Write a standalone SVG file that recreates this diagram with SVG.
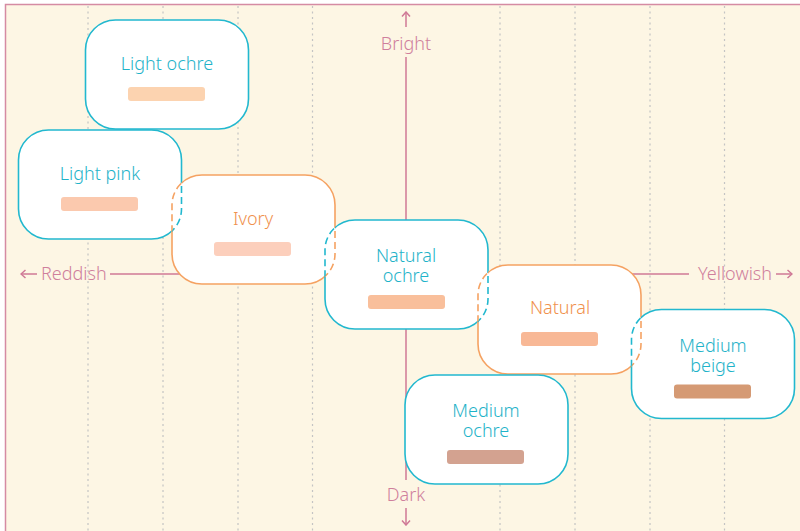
<svg xmlns="http://www.w3.org/2000/svg" xmlns:xlink="http://www.w3.org/1999/xlink" width="800" height="531" viewBox="0 0 800 531">
<style>
.bg{fill:#fdf6e4;stroke:#d58ba3;stroke-width:1.5}
.grid{stroke:#c4c4c4;stroke-width:1.2;stroke-dasharray:2 3.5}
.axis{stroke:#cf7896;stroke-width:1.5;fill:none}
.axl{font-family:"Noto Sans","Open Sans",sans-serif;font-weight:300;font-size:18px;fill:#cf7f9c}
.fill{fill:#ffffff}
.cy{fill:none;stroke:#22b8cf;stroke-width:1.6}
.or{fill:none;stroke:#f5a262;stroke-width:1.6}
.dash{stroke-dasharray:7 4}
.t{font-family:"Noto Sans","Open Sans",sans-serif;font-weight:300;font-size:18px;text-anchor:middle}
.tc{fill:#1fb3c9}
.to{fill:#f0914d}
</style>
<defs>
<rect id="r-lo" x="85.5" y="20" width="163" height="109" rx="30"/>
<rect id="r-lp" x="18.5" y="130" width="163" height="109" rx="30"/>
<rect id="r-iv" x="172" y="175" width="163" height="109" rx="30"/>
<rect id="r-no" x="325" y="220" width="163" height="109" rx="30"/>
<rect id="r-na" x="478" y="265" width="163" height="109" rx="30"/>
<rect id="r-mb" x="631.5" y="309.5" width="163" height="109" rx="30"/>
<rect id="r-mo" x="405" y="375" width="163" height="109" rx="30"/>
<clipPath id="c-lp"><use xlink:href="#r-lp"/></clipPath>
<clipPath id="c-iv"><use xlink:href="#r-iv"/></clipPath>
<clipPath id="c-no"><use xlink:href="#r-no"/></clipPath>
<clipPath id="c-na"><use xlink:href="#r-na"/></clipPath>
<clipPath id="c-mb"><use xlink:href="#r-mb"/></clipPath>
<mask id="m-lp" maskUnits="userSpaceOnUse" x="0" y="0" width="800" height="531"><rect width="800" height="531" fill="#fff"/><use xlink:href="#r-iv" fill="#000"/></mask>
<mask id="m-iv" maskUnits="userSpaceOnUse" x="0" y="0" width="800" height="531"><rect width="800" height="531" fill="#fff"/><use xlink:href="#r-lp" fill="#000"/><use xlink:href="#r-no" fill="#000"/></mask>
<mask id="m-no" maskUnits="userSpaceOnUse" x="0" y="0" width="800" height="531"><rect width="800" height="531" fill="#fff"/><use xlink:href="#r-iv" fill="#000"/><use xlink:href="#r-na" fill="#000"/></mask>
<mask id="m-na" maskUnits="userSpaceOnUse" x="0" y="0" width="800" height="531"><rect width="800" height="531" fill="#fff"/><use xlink:href="#r-no" fill="#000"/><use xlink:href="#r-mb" fill="#000"/></mask>
<mask id="m-mb" maskUnits="userSpaceOnUse" x="0" y="0" width="800" height="531"><rect width="800" height="531" fill="#fff"/><use xlink:href="#r-na" fill="#000"/></mask>
<marker id="arr" viewBox="0 0 10 10" refX="9" refY="5" markerWidth="10" markerHeight="10" markerUnits="userSpaceOnUse" orient="auto">
<path d="M4.5,1 L9,5 L4.5,9" fill="none" stroke="#cf7896" stroke-width="1.5"/>
</marker>
</defs>

<rect class="bg" x="5.5" y="4.5" width="800" height="540"/>

<g id="grid">
<line class="grid" x1="88" y1="6" x2="88" y2="531"/>
<line class="grid" x1="163" y1="6" x2="163" y2="531"/>
<line class="grid" x1="238" y1="6" x2="238" y2="531"/>
<line class="grid" x1="312.5" y1="6" x2="312.5" y2="531"/>
<line class="grid" x1="500" y1="6" x2="500" y2="531"/>
<line class="grid" x1="575" y1="6" x2="575" y2="531"/>
<line class="grid" x1="650" y1="6" x2="650" y2="531"/>
<line class="grid" x1="724.5" y1="6" x2="724.5" y2="531"/>
</g>

<g id="axes">
<line class="axis" x1="406" y1="57" x2="406" y2="480"/>
<line class="axis" x1="406" y1="27" x2="406" y2="12" marker-end="url(#arr)"/>
<line class="axis" x1="406" y1="508" x2="406" y2="525" marker-end="url(#arr)"/>
<line class="axis" x1="110" y1="274" x2="180" y2="274"/>
<line class="axis" x1="37" y1="274" x2="21" y2="274" marker-end="url(#arr)"/>
<line class="axis" x1="630" y1="274" x2="689" y2="274"/>
<line class="axis" x1="776" y1="274" x2="792" y2="274" marker-end="url(#arr)"/>
<text class="axl" x="406" y="50" text-anchor="middle">Bright</text>
<text class="axl" x="406" y="501" text-anchor="middle">Dark</text>
<text class="axl" x="41" y="280">Reddish</text>
<text class="axl" x="772" y="280" text-anchor="end">Yellowish</text>
</g>

<g id="node-light-ochre">
<use xlink:href="#r-lo" class="fill"/>
<use xlink:href="#r-lo" class="cy"/>
<text class="t tc" x="167" y="70">Light ochre</text>
<rect x="128" y="87" width="77" height="14" rx="3" fill="#fcd3b0"/>
</g>

<g id="node-light-pink">
<use xlink:href="#r-lp" class="fill"/>
<use xlink:href="#r-lp" class="cy" mask="url(#m-lp)"/>
<text class="t tc" x="100" y="180">Light pink</text>
<rect x="61" y="197" width="77" height="14" rx="3" fill="#fbc9ae"/>
</g>

<g id="node-ivory">
<use xlink:href="#r-iv" class="fill"/>
<use xlink:href="#r-iv" class="or" mask="url(#m-iv)"/>
<text class="t to" x="253" y="225">Ivory</text>
<rect x="214" y="242" width="77" height="14" rx="3" fill="#fccfbc"/>
</g>

<g id="node-natural-ochre">
<use xlink:href="#r-no" class="fill"/>
<use xlink:href="#r-no" class="cy" mask="url(#m-no)"/>
<text class="t tc" x="406" y="262">Natural</text>
<text class="t tc" x="406" y="282">ochre</text>
<rect x="368" y="295" width="77" height="14" rx="3" fill="#f9bf9b"/>
</g>

<g id="node-natural">
<use xlink:href="#r-na" class="fill"/>
<use xlink:href="#r-na" class="or" mask="url(#m-na)"/>
<text class="t to" x="560" y="314">Natural</text>
<rect x="521" y="332" width="77" height="14" rx="3" fill="#f8b896"/>
</g>

<g id="node-medium-beige">
<use xlink:href="#r-mb" class="fill"/>
<use xlink:href="#r-mb" class="cy" mask="url(#m-mb)"/>
<text class="t tc" x="713" y="352">Medium</text>
<text class="t tc" x="713" y="372">beige</text>
<rect x="674" y="384.5" width="77" height="14" rx="3" fill="#d59a74"/>
</g>

<g id="node-medium-ochre">
<use xlink:href="#r-mo" class="fill"/>
<use xlink:href="#r-mo" class="cy"/>
<text class="t tc" x="486" y="417">Medium</text>
<text class="t tc" x="486" y="437">ochre</text>
<rect x="447" y="450" width="77" height="14" rx="3" fill="#d3a290"/>
</g>

<g id="overlaps">
<g clip-path="url(#c-iv)"><use xlink:href="#r-lp" class="cy dash"/></g>
<g clip-path="url(#c-lp)"><use xlink:href="#r-iv" class="or dash"/></g>
<g clip-path="url(#c-no)"><use xlink:href="#r-iv" class="or dash"/></g>
<g clip-path="url(#c-iv)"><use xlink:href="#r-no" class="cy dash"/></g>
<g clip-path="url(#c-na)"><use xlink:href="#r-no" class="cy dash"/></g>
<g clip-path="url(#c-no)"><use xlink:href="#r-na" class="or dash"/></g>
<g clip-path="url(#c-mb)"><use xlink:href="#r-na" class="or dash"/></g>
<g clip-path="url(#c-na)"><use xlink:href="#r-mb" class="cy dash"/></g>
</g>
</svg>
